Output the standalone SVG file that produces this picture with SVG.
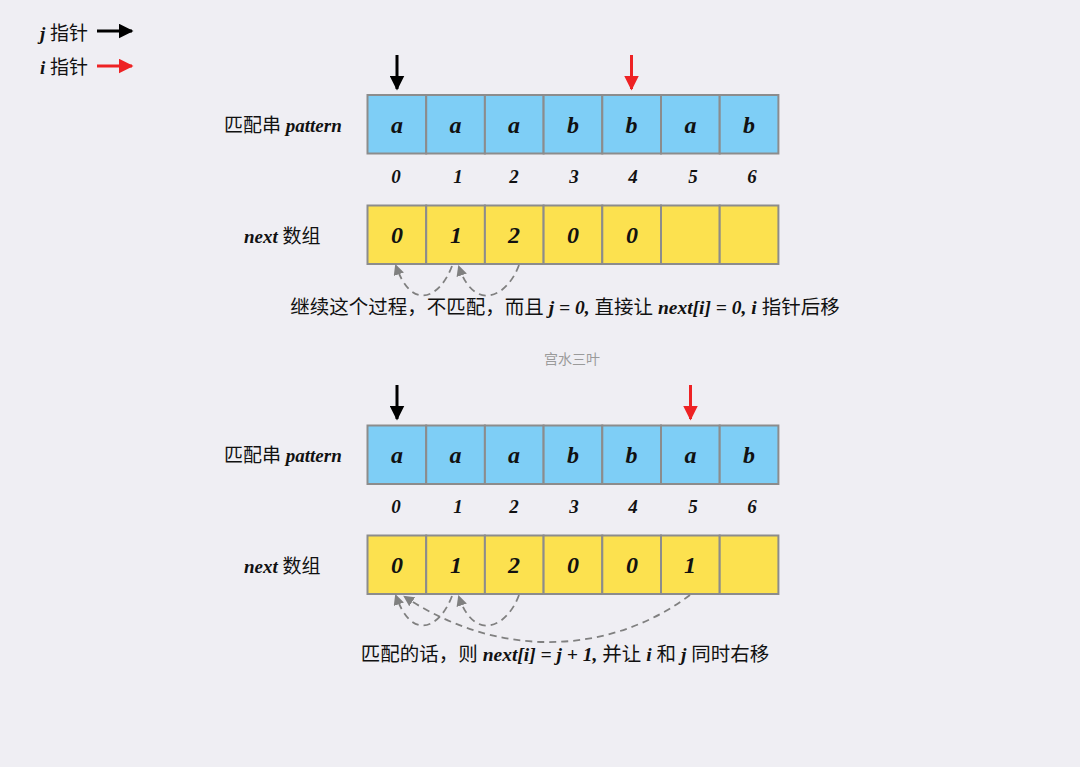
<svg xmlns="http://www.w3.org/2000/svg" width="1080" height="767" viewBox="0 0 1080 767">
<defs>
<marker id="ah" viewBox="0 0 10 10" refX="9" refY="5" markerWidth="5" markerHeight="5" orient="auto" markerUnits="strokeWidth"><path d="M0,0 L10,5 L0,10 z" fill="#000"/></marker>
<marker id="ahr" viewBox="0 0 10 10" refX="9" refY="5" markerWidth="5" markerHeight="5" orient="auto" markerUnits="strokeWidth"><path d="M0,0 L10,5 L0,10 z" fill="#EE2224"/></marker>
<marker id="ahg" viewBox="0 0 10 10" refX="8" refY="5" markerWidth="6" markerHeight="6" orient="auto" markerUnits="strokeWidth"><path d="M0,0 L10,5 L0,10 z" fill="#808080"/></marker>
</defs>
<style>
.bg{fill:#EFEEF3}
.cb{fill:#7ECEF6;stroke:#8C8C8C;stroke-width:2}
.cy{fill:#FCE14F;stroke:#8C8C8C;stroke-width:2}
.v{font-family:"Liberation Serif",serif;font-weight:bold;font-style:italic;font-size:24px;text-anchor:middle;fill:#111}
.idx{font-family:"Liberation Serif",serif;font-weight:bold;font-style:italic;font-size:19px;text-anchor:middle;fill:#111}
.lab{font-family:"Liberation Serif","Noto Sans CJK SC",serif;font-size:19px;fill:#111}
.it{font-weight:bold;font-style:italic}
.cap{font-family:"Liberation Serif","Noto Sans CJK SC",serif;font-size:19.5px;fill:#111;text-anchor:middle}
.wm{font-family:"Noto Sans CJK SC",sans-serif;font-size:14px;fill:#9A9A9A;text-anchor:middle}
.pb{stroke:#000;stroke-width:3;fill:none;marker-end:url(#ah)}
.pr{stroke:#EE2224;stroke-width:3;fill:none;marker-end:url(#ahr)}
.dash{stroke:#808080;stroke-width:1.8;fill:none;stroke-dasharray:7 5;marker-end:url(#ahg)}
</style>
<rect class="bg" x="0" y="0" width="1080" height="767"/>

<g id="legend">
<text class="lab" x="40" y="40"><tspan class="it">j</tspan> 指针</text>
<line class="pb" x1="97" y1="31" x2="132" y2="31"/>
<text class="lab" x="40" y="74"><tspan class="it">i</tspan> 指针</text>
<line class="pr" x1="97" y1="66" x2="132" y2="66"/>
</g>

<g id="top-pattern">
<text class="lab" x="224" y="132">匹配串 <tspan class="it">pattern</tspan></text>
<rect class="cb" x="367.5" y="95" width="58.7" height="58.5"/>
<rect class="cb" x="426.2" y="95" width="58.7" height="58.5"/>
<rect class="cb" x="484.9" y="95" width="58.7" height="58.5"/>
<rect class="cb" x="543.6" y="95" width="58.7" height="58.5"/>
<rect class="cb" x="602.3" y="95" width="58.7" height="58.5"/>
<rect class="cb" x="661" y="95" width="58.7" height="58.5"/>
<rect class="cb" x="719.7" y="95" width="58.7" height="58.5"/>
<text class="v" x="397" y="133">a</text>
<text class="v" x="455.5" y="133">a</text>
<text class="v" x="514" y="133">a</text>
<text class="v" x="573" y="133">b</text>
<text class="v" x="631.5" y="133">b</text>
<text class="v" x="690.5" y="133">a</text>
<text class="v" x="749" y="133">b</text>
</g>
<g id="top-index">
<text class="idx" x="396" y="183">0</text>
<text class="idx" x="458" y="183">1</text>
<text class="idx" x="514" y="183">2</text>
<text class="idx" x="574" y="183">3</text>
<text class="idx" x="633" y="183">4</text>
<text class="idx" x="693" y="183">5</text>
<text class="idx" x="752" y="183">6</text>
</g>
<g id="top-next">
<text class="lab" x="244" y="243"><tspan class="it">next</tspan> 数组</text>
<rect class="cy" x="367.5" y="205.5" width="58.7" height="58.5"/>
<rect class="cy" x="426.2" y="205.5" width="58.7" height="58.5"/>
<rect class="cy" x="484.9" y="205.5" width="58.7" height="58.5"/>
<rect class="cy" x="543.6" y="205.5" width="58.7" height="58.5"/>
<rect class="cy" x="602.3" y="205.5" width="58.7" height="58.5"/>
<rect class="cy" x="661" y="205.5" width="58.7" height="58.5"/>
<rect class="cy" x="719.7" y="205.5" width="58.7" height="58.5"/>
<text class="v" x="397" y="243">0</text>
<text class="v" x="456" y="243">1</text>
<text class="v" x="514" y="243">2</text>
<text class="v" x="573" y="243">0</text>
<text class="v" x="632" y="243">0</text>
</g>
<g id="top-caption">
<text class="cap" x="565" y="314">继续这个过程，不匹配，而且 <tspan class="it">j = 0,</tspan> 直接让 <tspan class="it">next[i] = 0, i</tspan> 指针后移</text>
</g>

<text class="wm" x="572" y="364">宫水三叶</text>

<g id="bottom-pattern">
<text class="lab" x="224" y="462">匹配串 <tspan class="it">pattern</tspan></text>
<rect class="cb" x="367.5" y="425.5" width="58.7" height="58.5"/>
<rect class="cb" x="426.2" y="425.5" width="58.7" height="58.5"/>
<rect class="cb" x="484.9" y="425.5" width="58.7" height="58.5"/>
<rect class="cb" x="543.6" y="425.5" width="58.7" height="58.5"/>
<rect class="cb" x="602.3" y="425.5" width="58.7" height="58.5"/>
<rect class="cb" x="661" y="425.5" width="58.7" height="58.5"/>
<rect class="cb" x="719.7" y="425.5" width="58.7" height="58.5"/>
<text class="v" x="397" y="463">a</text>
<text class="v" x="455.5" y="463">a</text>
<text class="v" x="514" y="463">a</text>
<text class="v" x="573" y="463">b</text>
<text class="v" x="631.5" y="463">b</text>
<text class="v" x="690.5" y="463">a</text>
<text class="v" x="749" y="463">b</text>
</g>
<g id="bottom-index">
<text class="idx" x="396" y="513">0</text>
<text class="idx" x="458" y="513">1</text>
<text class="idx" x="514" y="513">2</text>
<text class="idx" x="574" y="513">3</text>
<text class="idx" x="633" y="513">4</text>
<text class="idx" x="693" y="513">5</text>
<text class="idx" x="752" y="513">6</text>
</g>
<g id="bottom-next">
<text class="lab" x="244" y="573"><tspan class="it">next</tspan> 数组</text>
<rect class="cy" x="367.5" y="535.5" width="58.7" height="58.5"/>
<rect class="cy" x="426.2" y="535.5" width="58.7" height="58.5"/>
<rect class="cy" x="484.9" y="535.5" width="58.7" height="58.5"/>
<rect class="cy" x="543.6" y="535.5" width="58.7" height="58.5"/>
<rect class="cy" x="602.3" y="535.5" width="58.7" height="58.5"/>
<rect class="cy" x="661" y="535.5" width="58.7" height="58.5"/>
<rect class="cy" x="719.7" y="535.5" width="58.7" height="58.5"/>
<text class="v" x="397" y="573">0</text>
<text class="v" x="456" y="573">1</text>
<text class="v" x="514" y="573">2</text>
<text class="v" x="573" y="573">0</text>
<text class="v" x="632" y="573">0</text>
<text class="v" x="690" y="573">1</text>
</g>
<g id="bottom-caption">
<text class="cap" x="565" y="661">匹配的话，则 <tspan class="it">next[i] = j + 1,</tspan> 并让 <tspan class="it">i</tspan> 和 <tspan class="it">j</tspan> 同时右移</text>
</g>

<g id="connectors">
<line class="pb" x1="397" y1="55" x2="397" y2="89"/>
<line class="pr" x1="631.5" y1="55" x2="631.5" y2="89"/>
<line class="pb" x1="397" y1="385" x2="397" y2="419"/>
<line class="pr" x1="690.5" y1="385" x2="690.5" y2="419"/>
<path class="dash" d="M519,265 C507,298 474,312 459,267"/>
<path class="dash" d="M452,266 C440,298 412,312 396,266"/>
<path class="dash" d="M519,595 C507,628 474,642 459,597"/>
<path class="dash" d="M452,596 C440,628 412,642 396,596"/>
<path class="dash" d="M690,595 C620,648 510,666 405,597"/>
</g>
</svg>
